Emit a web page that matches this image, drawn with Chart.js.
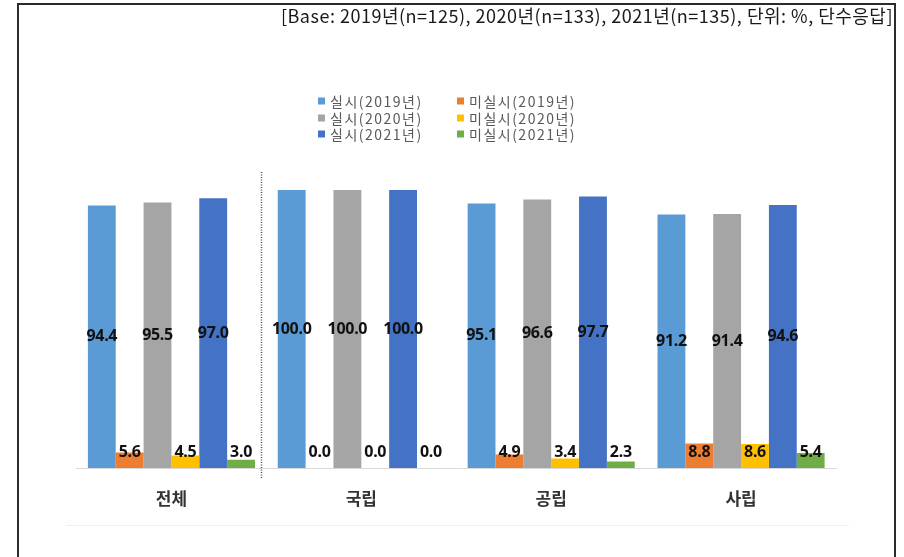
<!DOCTYPE html>
<html>
<head>
<meta charset="utf-8">
<script src="https://cdn.jsdelivr.net/npm/chart.js@4/dist/chart.umd.min.js"></script>
<style>
  html, body { margin: 0; padding: 0; background: #fff; }
  #wrap { position: relative; width: 904px; height: 557px; overflow: hidden; }
  #frame { position: absolute; left: 17px; top: 3px; width: 879px; height: 570px;
           border: 2px solid #2b2b2b; border-bottom: none; box-sizing: border-box; }
  canvas { position: absolute; left: 0; top: 0; }
</style>
</head>
<body>
<div id="wrap">
  <div id="frame"></div>
  <canvas id="c" width="904" height="557"></canvas>
</div>
<script>
// Institution types on the x axis
const categories = ['전체', '국립', '공립', '사립'];

// Series names (legend order = draw order inside each group)
const seriesLabels = ['실시(2019년)', '미실시(2019년)', '실시(2020년)', '미실시(2020년)', '실시(2021년)', '미실시(2021년)'];

// Percentages per category
const done2019    = [94.4, 100.0, 95.1, 91.2];
const notDone2019 = [5.6, 0.0, 4.9, 8.8];
const done2020    = [95.5, 100.0, 96.6, 91.4];
const notDone2020 = [4.5, 0.0, 3.4, 8.6];
const done2021    = [97.0, 100.0, 97.7, 94.6];
const notDone2021 = [3.0, 0.0, 2.3, 5.4];

const seriesColors = ['#5B9BD5', '#ED7D31', '#A5A5A5', '#FFC000', '#4472C4', '#70AD47'];
const baseNote = '[Base: 2019년(n=125), 2020년(n=133), 2021년(n=135), 단위: %, 단수응답]';

const seriesValues = [done2019, notDone2019, done2020, notDone2020, done2021, notDone2021];

const datasets = seriesLabels.map((label, i) => ({
  label: label,
  data: seriesValues[i],
  backgroundColor: seriesColors[i],
  borderWidth: 0,
  barPercentage: 1.0,
  categoryPercentage: 0.88
}));

// Value labels: "done" series centred in the bar, "not done" series sitting at the base
const valueLabels = {
  id: 'valueLabels',
  afterDatasetsDraw(chart) {
    const ctx = chart.ctx;
    ctx.save();
    ctx.font = 'bold 16px "Noto Sans", "DejaVu Sans", sans-serif';
    ctx.fillStyle = '#111111';
    ctx.textAlign = 'center';
    ctx.textBaseline = 'middle';
    if ('letterSpacing' in ctx) ctx.letterSpacing = '-0.3px';
    chart.data.datasets.forEach((ds, di) => {
      const meta = chart.getDatasetMeta(di);
      meta.data.forEach((bar, i) => {
        const v = ds.data[i];
        const y = (di % 2 === 0) ? (bar.y + bar.base) / 2 : bar.base - 16;
        ctx.fillText(v.toFixed(1), bar.x, y);
      });
    });
    if ('letterSpacing' in ctx) ctx.letterSpacing = '0px';
    ctx.restore();
  }
};

// Legend (two columns), base note, divider and frame line
const decorations = {
  id: 'decorations',
  afterDraw(chart) {
    const ctx = chart.ctx;
    const xs = chart.scales.x;
    const area = chart.chartArea;
    ctx.save();

    // note at the top right
    ctx.font = '18px "Noto Sans CJK KR", "Noto Sans", sans-serif';
    ctx.fillStyle = '#1a1a1a';
    ctx.textAlign = 'right';
    ctx.textBaseline = 'middle';
    if ('letterSpacing' in ctx) ctx.letterSpacing = '0.5px';
    ctx.fillText(baseNote, 893, 16, 614);
    if ('letterSpacing' in ctx) ctx.letterSpacing = '0px';

    // legend
    const colX = [318, 457];
    const rowY = [101, 118, 134];
    ctx.font = '14px "Noto Sans CJK KR", "Noto Sans", sans-serif';
    ctx.textAlign = 'left';
    if ('letterSpacing' in ctx) ctx.letterSpacing = '1.5px';
    chart.data.datasets.forEach((ds, i) => {
      const bx = colX[i % 2];
      const by = rowY[Math.floor(i / 2)];
      ctx.fillStyle = ds.backgroundColor;
      ctx.fillRect(bx, by - 3.5, 7, 7);
      ctx.fillStyle = '#595959';
      ctx.fillText(ds.label, bx + 12, by + 0.5);
    });
    if ('letterSpacing' in ctx) ctx.letterSpacing = '0px';

    // dotted divider after the total group
    const dx = Math.round((xs.getPixelForValue(0) + xs.getPixelForValue(1)) / 2 - 5.5) + 0.5;
    ctx.strokeStyle = '#555555';
    ctx.lineWidth = 1.5;
    ctx.setLineDash([1, 1.5]);
    ctx.beginPath();
    ctx.moveTo(dx, area.top - 18);
    ctx.lineTo(dx, area.bottom + 10);
    ctx.stroke();
    ctx.setLineDash([]);

    // faint plot frame line under the labels
    ctx.strokeStyle = '#efefef';
    ctx.lineWidth = 1;
    ctx.beginPath();
    ctx.moveTo(area.left - 11, 525.5);
    ctx.lineTo(area.right + 13, 525.5);
    ctx.stroke();

    ctx.restore();
  }
};

new Chart(document.getElementById('c'), {
  type: 'bar',
  data: { labels: categories, datasets: datasets },
  options: {
    responsive: false,
    animation: false,
    events: [],
    devicePixelRatio: 1,
    layout: { padding: { left: 76.5, right: 68, top: 190, bottom: 29 } },
    plugins: {
      legend: { display: false },
      title: { display: false },
      tooltip: { enabled: false }
    },
    scales: {
      x: {
        offset: true,
        grid: { display: false, drawTicks: false },
        border: { display: true, color: '#d9d9d9', width: 1 },
        ticks: {
          color: '#333333',
          padding: 20,
          font: { family: '"Noto Sans CJK KR", "Noto Sans", sans-serif', size: 17, weight: 'bold' }
        },
        afterFit(scale) { scale.height = 60; }
      },
      y: {
        display: false,
        min: 0,
        max: 100
      }
    }
  },
  plugins: [valueLabels, decorations]
});
</script>
</body>
</html>
